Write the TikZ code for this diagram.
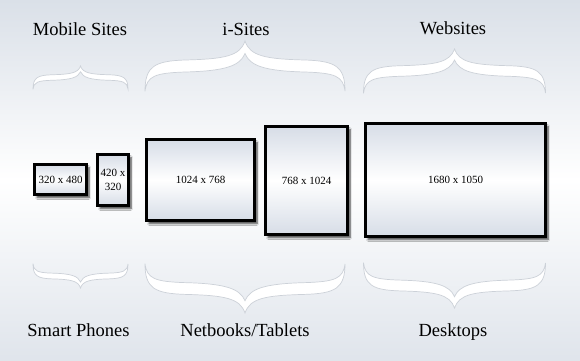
\documentclass[tikz,border=0pt]{standalone}
\usepackage{fontspec}
\setmainfont{Liberation Serif}
\usetikzlibrary{shadows.blur}
\definecolor{bg-blue}{HTML}{DAE0E8}
\definecolor{box-blue}{HTML}{D7DDE7}
\definecolor{brace-line}{HTML}{CCD1D8}

\begin{document}
\begin{tikzpicture}[x=1pt, y=-1pt,
        every node/.style={font=\fontsize{18.5}{20}\selectfont},
        screen/.style={draw=black, line width=3pt, inner sep=0pt,
            top color=box-blue, bottom color=box-blue, middle color=white,
            blur shadow={shadow xshift=2.5pt, shadow yshift=-3pt,
                shadow blur steps=6, shadow opacity=75},
            align=center, font=\fontsize{11}{14}\selectfont}]
      % background
      \shade[top color=bg-blue, bottom color=bg-blue!85, middle color=white]
            (0,0) rectangle (580,360);
      \useasboundingbox (0,0) rectangle (580,360);
      % braces: centre x / end y / half width / height (negative = tip up)
      \foreach \cx/\ey/\hw/\ht in {80.5/89/47.5/-23, 245/91/100/-50, 454.5/93/91/-44,
                                   80.5/264/47.5/24, 245/264/100/49, 454.5/263/91/45}
        \draw[brace-line, fill=white, line width=0.7pt,
              shift={(\cx,\ey)}, xscale=\hw, yscale=\ht]
          (-1,0) .. controls (-1,0.5) and (-0.9,0.6) .. (-0.6,0.62)
                 .. controls (-0.2,0.64) and (-0.05,0.7) .. (0,1)
                 .. controls (0.05,0.7) and (0.2,0.64) .. (0.6,0.62)
                 .. controls (0.9,0.6) and (1,0.5) .. (1,0)
                 .. controls (0.98,0.3) and (0.9,0.36) .. (0.6,0.38)
                 .. controls (0.2,0.4) and (0.05,0.5) .. (0,0.75)
                 .. controls (-0.05,0.5) and (-0.2,0.4) .. (-0.6,0.38)
                 .. controls (-0.9,0.36) and (-0.98,0.3) .. cycle;
      % screens
      \node[screen, minimum width=52pt, minimum height=30pt]  (PH1) at (60.5,179.5) {320 x 480};
      \node[screen, minimum width=31pt, minimum height=51pt]  (PH2) at (113,180) {420 x\\320};
      \node[screen, minimum width=108pt, minimum height=81pt] (TAB1) at (200.5,180) {1024 x 768};
      \node[screen, minimum width=82pt, minimum height=108pt] (TAB2) at (306.5,180.5) {768 x 1024};
      \node[screen, minimum width=180pt, minimum height=113pt] (DSK) at (455.5,180) {1680 x 1050};
      % labels
      \node[anchor=base] (MOB) at (80,35) {Mobile Sites};
      \node[anchor=base] (ISI) at (246,35) {i-Sites};
      \node[anchor=base] (WEB) at (453,34) {Websites};
      \node[anchor=base] (SMP) at (78.5,336) {Smart Phones};
      \node[anchor=base] (NET) at (245,336) {Netbooks/Tablets};
      \node[anchor=base] (DES) at (453,336) {Desktops};
    \end{tikzpicture}
\end{document}
